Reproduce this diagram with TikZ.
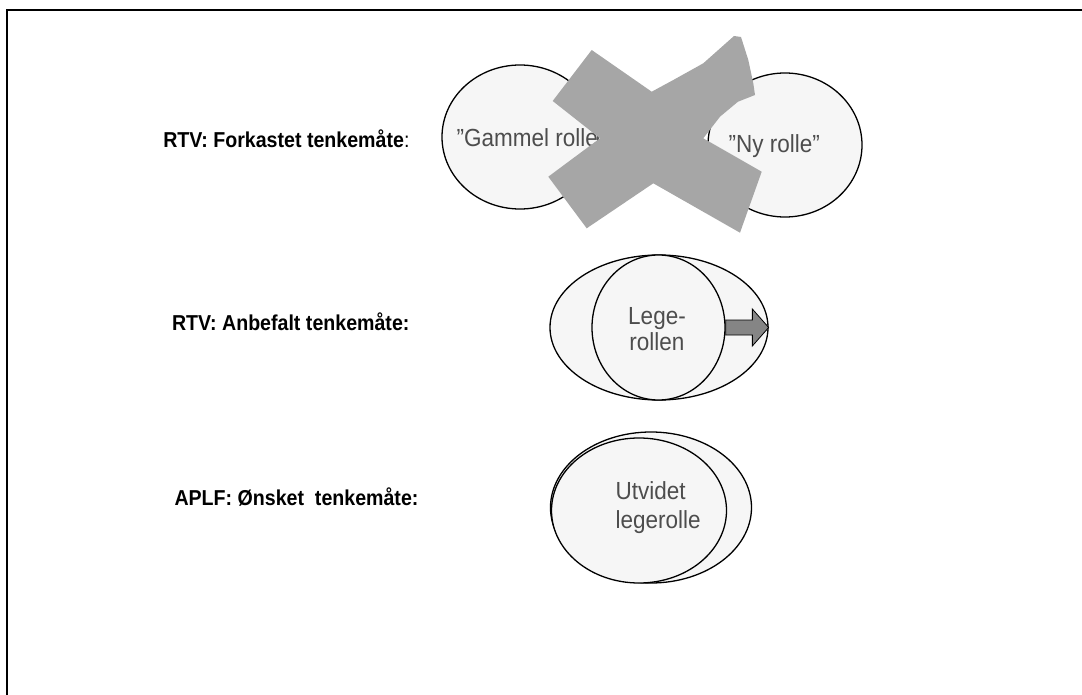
\documentclass[tikz,border=0pt]{standalone}
\usepackage{fontspec}
\usepackage{graphicx}
\setmainfont{Liberation Sans}
\usetikzlibrary{shapes.geometric}
\definecolor{rolefill}{RGB}{246,246,246}
\definecolor{roletxt}{RGB}{77,77,77}
\definecolor{crossgray}{RGB}{166,166,166}
\definecolor{arrowgray}{RGB}{133,133,133}
\newcommand{\tall}[1]{\scalebox{1}[1.1]{#1}}
\tikzset{
  role/.style={ellipse, draw, line width=1.3pt, fill=rolefill, inner sep=0pt},
  roletext/.style={text=roletxt, font=\fontsize{22.5}{27}\selectfont},
  heading/.style={font=\bfseries\fontsize{19.6}{24}\selectfont, anchor=base east}
}

\begin{document}
\begin{tikzpicture}[x=1pt,y=-1pt]
\useasboundingbox (0,0) rectangle (1082,695);
\draw[line width=2.2pt] (7,700) -- (7,10.3) -- (1090,10.3);

% forkastet tenkemaate
\node[heading] (h1) at (413,147.3) {\tall{RTV: Forkastet tenkemåte\textmd{:}}};
\node[role, minimum width=156, minimum height=144] (old) at (520,137) {};
\node[role, minimum width=154, minimum height=144] (new) at (785,145) {};
\node[roletext, anchor=base west] (oldtxt) at (453,146.7) {\tall{”Gammel rolle}};
\node[roletext, anchor=base west] (newtxt) at (725,153) {\tall{”Ny rolle”}};
\fill[crossgray] (591.7,50) -- (651.7,91.7) -- (673.3,80) -- (703.3,63.3)
  -- (734,36) -- (741,37) -- (748.3,60) -- (753.3,83.3) -- (755,95)
  -- (738,101.7) -- (720,116.7) -- (703.3,138.3)
  -- (761.7,171.7) -- (740,232.7) -- (653.3,183.3) -- (586.7,228.3)
  -- (548.3,176.7) -- (600,138.3) -- (552.7,101) -- cycle;

% anbefalt tenkemaate
\node[heading] (h2) at (413,330) {\tall{RTV: Anbefalt tenkemåte:}};
\node[role, minimum width=218, minimum height=145] (wide) at (659,327.5) {};
\node[role, minimum width=133, minimum height=145] (lege) at (658.5,327.5) {};
\node[roletext, align=center, font=\fontsize{22.5}{26}\selectfont]
  (legetxt) at (657,329) {\tall{Lege-}\\\tall{rollen}};
\draw[fill=arrowgray, line width=0.8pt] (wide.east) -- ++(-16.3,-18.5)
  -- ++(0,11) -- ++(-26.7,0) -- ++(0,15) -- ++(26.7,0) -- ++(0,11) -- cycle;

% oensket tenkemaate
\node[heading] (h3) at (422,505) {\tall{APLF: Ønsket\ \ tenkemåte:}};
\node[role, minimum width=201, minimum height=151] (big) at (651,507.5) {};
\node[role, minimum width=175, minimum height=145] (small) at (639,510.5) {};
\node[roletext, align=left, anchor=west, font=\fontsize{22.5}{29}\selectfont]
  (uttxt) at (612,508) {\tall{Utvidet}\\\tall{legerolle}};
\end{tikzpicture}
\end{document}
